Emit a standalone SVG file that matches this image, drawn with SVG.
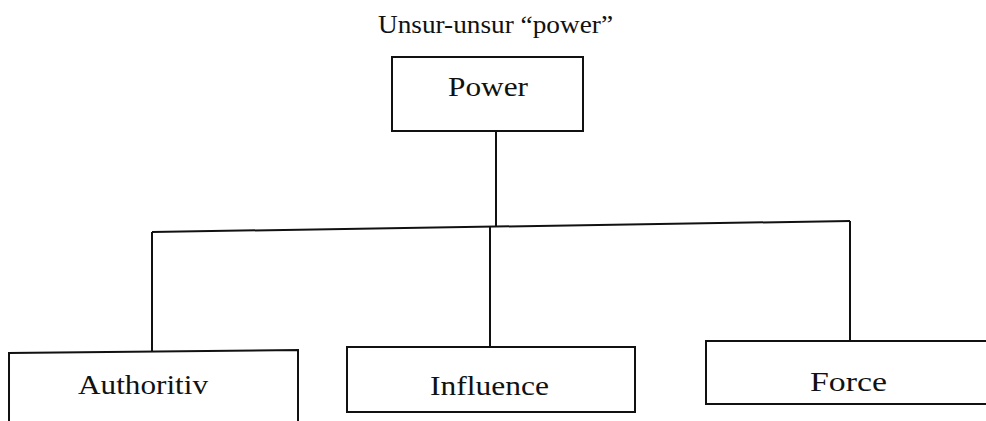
<svg xmlns="http://www.w3.org/2000/svg" width="986" height="421" viewBox="0 0 986 421">
<style>
.t{font-family:"Liberation Serif","Times New Roman",serif;font-size:28px;fill:#111}
.h{font-family:"Liberation Serif","Times New Roman",serif;font-size:26px;fill:#111}
.b{fill:none;stroke:#111;stroke-width:2}
.c{fill:none;stroke:#111;stroke-width:2}
</style>
<rect width="986" height="421" fill="#fff"/>
<text class="h" x="378" y="33" textLength="235" lengthAdjust="spacingAndGlyphs">Unsur-unsur “power”</text>
<g id="power">
<rect class="b" x="392" y="57" width="191" height="74"/>
<text class="t" x="448" y="96" textLength="80" lengthAdjust="spacingAndGlyphs">Power</text>
</g>
<g id="connectors">
<line class="c" x1="496" y1="131" x2="496" y2="227"/>
<line class="c" x1="152" y1="232" x2="850" y2="221"/>
<line class="c" x1="152" y1="232" x2="152" y2="351"/>
<line class="c" x1="490" y1="226" x2="490" y2="346"/>
<line class="c" x1="850" y1="221" x2="850" y2="341"/>
</g>
<g id="authoritiv">
<path class="b" d="M9 421 V353 L298 350 V421"/>
<text class="t" x="78" y="394" textLength="130" lengthAdjust="spacingAndGlyphs">Authoritiv</text>
</g>
<g id="influence">
<rect class="b" x="347" y="347" width="288" height="65"/>
<text class="t" x="430" y="395" textLength="119" lengthAdjust="spacingAndGlyphs">Influence</text>
</g>
<g id="force">
<path class="b" d="M986 341 H706 V404 H986"/>
<text class="t" x="810" y="391" textLength="77" lengthAdjust="spacingAndGlyphs">Force</text>
</g>
</svg>
